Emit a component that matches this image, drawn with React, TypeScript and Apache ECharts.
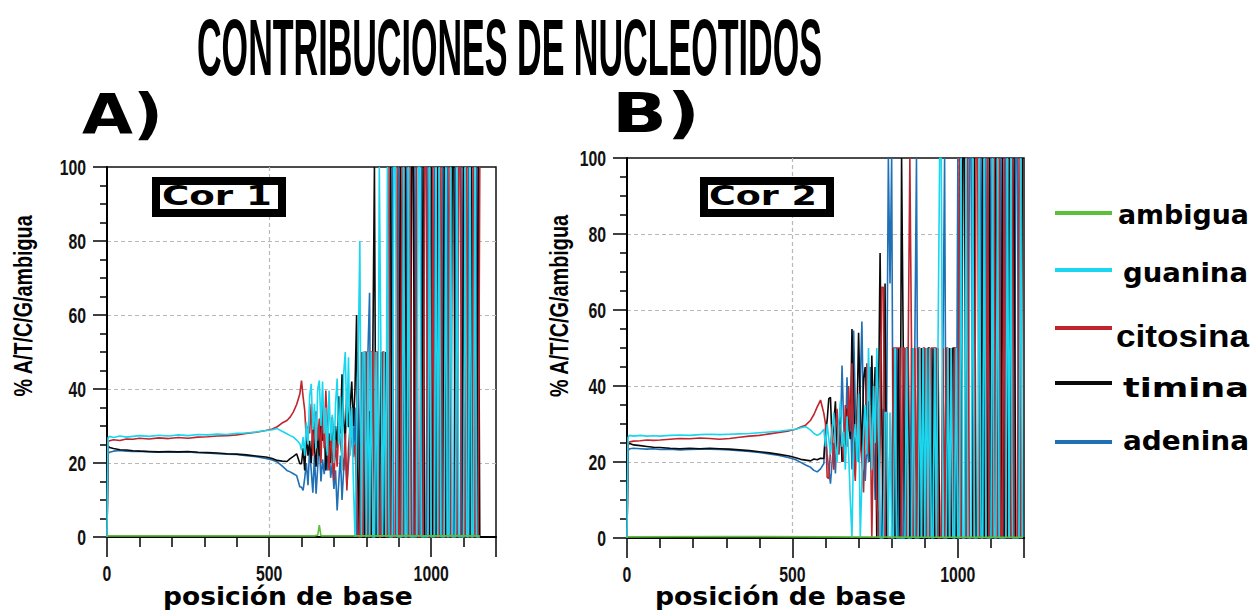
import React, { useEffect, useRef } from "react";
import * as echarts from "echarts";

// ---------- DATA ----------
const seriesNames = ["ambigua", "guanina", "citosina", "timina", "adenina"];
const xTickValues = [0, 500, 1000];
const yTickValues = [0, 20, 40, 60, 80, 100];

// Panel A (Cor 1) positions
const posA = [
  0, 3, 8, 20, 40, 60, 80, 100, 130, 160, 190, 220, 250, 280, 310, 340, 370, 400, 430, 460, 490,
  510, 525, 540, 555, 565, 575, 585, 595,
  600, 605, 610, 615, 620, 625, 630, 635, 640, 645, 650, 655, 660, 665, 670, 675, 680, 685, 690, 695,
  700, 705, 710, 715, 720, 725, 730, 735, 740, 745, 750, 755, 760,
  765, 770, 775, 780, 785, 790, 795, 800, 805, 810, 815, 820, 825, 830, 835, 840, 845, 850, 855, 860,
  865, 870, 875, 880, 885, 890, 895, 900, 905, 910, 915, 920, 925, 930, 935, 940, 945, 950, 955, 960,
  965, 970, 975, 980, 985, 990, 995, 1000, 1005, 1010, 1015, 1020, 1025, 1030, 1035, 1040, 1045, 1050,
  1055, 1060, 1065, 1070, 1075, 1080, 1085, 1090, 1095, 1100, 1105, 1110, 1115, 1120, 1125, 1130, 1135,
  1140, 1145, 1150,
];
const guaninaA = [
  0, 26.8, 27.2, 26.9, 27.3, 27.0, 27.2, 27.4, 27.2, 27.5, 27.3, 27.6, 27.4, 27.7, 27.6, 27.8, 27.7, 28.0, 28.1, 28.4, 28.8,
  29.0, 29.3, 28.6, 27.9, 27.4, 27.0, 26.2, 25.2,
  23.4, 27, 22, 31, 25, 38, 41.4, 29, 36, 24, 40, 42.3, 30, 42, 28, 35, 22, 39.6, 26, 33,
  20, 36, 42.8, 25, 38, 18, 44, 50, 30, 48.6, 22, 35, 15,
  0, 25, 50, 80, 0, 50, 50, 0, 50, 0, 50, 0, 0, 50, 0, 100, 50, 0, 50, 0,
  100, 0, 0, 0, 100, 100, 0, 0, 0, 0,
  100, 0, 0, 100, 0, 0, 0, 0, 0, 100,
  100, 0, 0, 0, 0, 0, 100, 0, 0, 0,
  100, 0, 100, 0, 0, 0, 100, 0, 0, 100,
  0, 0, 0, 100, 0, 0, 0, 0, 100, 0,
  0, 100, 0, 0, 100, 0, 0, 0,
];
const citosinaA = [
  0, 25.8, 26.0, 26.3, 26.1, 26.5, 26.4, 26.7, 26.5, 26.8, 26.6, 26.9, 26.7, 27.0, 27.1, 27.3, 27.4, 27.6, 28.0, 28.3, 28.8,
  29.2, 29.8, 30.8, 31.5, 32.4, 33.8, 35.8, 38.7,
  42.3, 37.8, 34.2, 26, 30, 28, 36, 22, 30, 34, 26, 32, 20, 36, 24, 39.6, 30, 18, 28, 22,
  15.3, 26, 19, 30, 25.2, 22, 18, 28, 12.6, 24, 30, 26, 21.6,
  25, 15, 0, 0, 50, 0, 50, 50, 0, 0, 50, 50, 0, 50, 50, 0, 0, 50, 50, 0,
  0, 100, 0, 0, 0, 0, 100, 0, 0, 100,
  0, 0, 0, 0, 100, 0, 0, 0, 100, 0,
  0, 0, 0, 100, 100, 0, 0, 0, 100, 0,
  0, 0, 0, 100, 0, 0, 0, 0, 100, 0,
  0, 0, 0, 0, 100, 100, 0, 0, 0, 100,
  0, 0, 0, 100, 0, 0, 0, 100,
];
const timinaA = [
  0, 24.6, 24.2, 23.9, 23.6, 23.5, 23.3, 23.2, 23.1, 23.0, 23.1, 23.0, 23.1, 22.9, 22.8, 22.7, 22.5, 22.4, 22.2, 21.9, 21.6,
  21.2, 20.7, 20.5, 20.4, 21.2, 21.8, 22.5, 19.8,
  19.8, 24, 18, 28, 22, 26, 20, 30, 24, 19, 28, 22, 34, 26, 30, 18, 24, 28, 20, 32.4,
  22, 30, 24, 38, 28, 44, 32, 26, 40, 29.7, 35, 42, 30,
  40, 60, 0, 20, 50, 0, 0, 50, 0, 34, 0, 50, 100, 0, 0, 0, 50, 0, 0, 50,
  0, 0, 100, 0, 0, 0, 0, 0, 100, 0,
  0, 100, 0, 0, 0, 100, 100, 0, 0, 0,
  0, 0, 100, 0, 0, 0, 0, 100, 0, 0,
  0, 100, 0, 0, 0, 100, 0, 0, 0, 0,
  100, 100, 0, 0, 0, 0, 0, 100, 0, 0,
  0, 0, 100, 0, 0, 0, 100, 0,
];
const adeninaA = [
  0, 22.6, 22.9, 23.2, 23.4, 23.2, 23.1, 23.2, 23.0, 22.9, 23.0, 22.9, 23.0, 22.8, 22.7, 22.5, 22.4, 22.3, 22.0, 21.7, 21.2,
  20.8, 20.3, 19.2, 18.0, 17.6, 17.1, 16.6, 13.5,
  13.5, 12.6, 16, 20, 14, 24, 18, 12, 22, 11.7, 19, 26, 15, 21, 17, 23, 18, 25, 16, 20,
  13, 18, 7.2, 15, 22, 10, 18, 23.4, 14, 20, 26, 35, 23.4,
  35, 0, 50, 0, 0, 50, 0, 0, 50, 66, 0, 0, 0, 0, 50, 0, 0, 50, 0, 50,
  0, 0, 0, 100, 0, 0, 0, 100, 0, 0,
  0, 0, 100, 0, 0, 0, 0, 100, 0, 0,
  0, 100, 0, 0, 0, 100, 0, 0, 0, 100,
  0, 0, 0, 0, 100, 0, 0, 100, 0, 0,
  0, 0, 100, 0, 0, 0, 100, 0, 0, 0,
  100, 0, 0, 0, 0, 100, 0, 0,
];
const ambiguaPosA = [0, 640, 650, 655, 660, 1150];
const ambiguaA = [0.3, 0.3, 0.5, 3.2, 0.3, 0.3];

// Panel B (Cor 2) positions
const posB = [
  0, 3, 8, 20, 40, 60, 80, 100, 130, 160, 190, 220, 250, 280, 310, 340, 370, 400, 430, 460, 490,
  510, 525, 540, 555, 565, 575, 585, 595,
  600, 605, 610, 615, 620, 625, 630, 635, 640, 645, 650, 655, 660, 665, 670, 675, 680, 685, 690, 695,
  700, 705, 710, 715, 720, 725, 730, 735, 740, 745, 750, 755, 760, 765, 770, 775, 780, 785, 790, 795, 800,
  805, 810, 815, 820, 825, 830, 835, 840, 845, 850, 855, 860, 865, 870, 875, 880, 885, 890, 895, 900,
  905, 910, 915, 920, 925, 930, 935, 940, 945, 950, 955, 960, 965, 970, 975, 980, 985, 990, 995,
  1000, 1005, 1010, 1015, 1020, 1025, 1030, 1035, 1040, 1045, 1050, 1055, 1060, 1065, 1070, 1075, 1080,
  1085, 1090, 1095, 1100, 1105, 1110, 1115, 1120, 1125, 1130, 1135, 1140, 1145, 1150, 1155, 1160, 1165,
  1170, 1175, 1180, 1185, 1190, 1195,
];
const guaninaB = [
  0, 26.5, 27.0, 26.8, 27.0, 26.8, 26.9, 26.8, 27.0, 27.1, 27.0, 27.2, 27.3, 27.2, 27.3, 27.4, 27.5, 27.7, 27.9, 28.1, 28.4,
  28.6, 29.0, 29.3, 28.4, 27.5, 27.0, 27.5, 28.6,
  24, 30, 26, 22, 28, 33, 25, 20, 30, 36, 24, 28, 18, 32, 22, 10, 0, 25, 30, 20,
  38, 0, 15, 28, 35, 22, 50, 30, 18, 40, 25, 50, 33, 0, 0, 0, 33, 33, 0, 33, 0,
  0, 50, 0, 0, 0, 0, 0, 0, 50, 0, 0, 0, 50, 0, 0, 0, 50, 0, 50, 0,
  50, 0, 50, 0, 0, 50, 0, 50, 100, 100, 0, 0, 0, 50, 0, 50, 0, 0, 50,
  0, 0, 100, 0, 0, 100, 0, 0, 0, 100,
  0, 0, 0, 100, 0, 0, 100, 0, 0, 0,
  0, 100, 0, 0, 100, 0, 0, 0, 0, 0,
  100, 0, 100, 0, 0, 0, 0, 0, 100, 0,
];
const citosinaB = [
  0, 25.0, 25.3, 25.5, 25.6, 25.8, 25.7, 25.8, 26.0, 26.2, 26.1, 26.3, 26.2, 26.0, 26.2, 26.5, 26.8, 27.0, 27.4, 27.8, 28.2,
  28.6, 29.2, 29.7, 31.0, 32.5, 34.5, 36.3, 32.8,
  30, 16, 15.6, 23, 30, 18, 28, 34, 22, 30, 26, 20, 35, 24, 40, 28, 46, 22, 15, 30,
  38, 25, 20, 12, 30, 46, 22, 35, 0, 28, 40, 10, 0, 25, 66, 66, 0, 33, 0, 0, 0,
  50, 50, 50, 50, 50, 0, 50, 50, 0, 50, 100, 50, 0, 50, 0, 50, 50, 0, 50, 50,
  0, 50, 0, 50, 50, 50, 50, 0, 0, 0, 50, 0, 50, 50, 0, 50, 0, 50, 50,
  0, 100, 0, 0, 0, 0, 100, 0, 0, 0,
  0, 100, 100, 0, 0, 0, 0, 0, 100, 0,
  0, 0, 100, 0, 0, 100, 0, 0, 100, 0,
  0, 0, 0, 100, 0, 0, 0, 100, 0, 0,
];
const timinaB = [
  0, 24.8, 24.9, 24.5, 24.3, 24.1, 23.9, 23.8, 23.6, 23.5, 23.6, 23.5, 23.6, 23.5, 23.4, 23.2, 23.0, 22.7, 22.4, 22.0, 21.6,
  21.1, 20.7, 20.5, 20.3, 20.8, 20.6, 21.0, 20.9,
  27.5, 31, 36.7, 37, 25, 30, 36, 22, 29, 33, 20, 28, 24, 34, 30, 26, 55, 38, 20, 30,
  54, 35, 22, 42, 45, 28, 36, 20, 48, 30, 45, 0, 33, 75, 34, 0, 67, 0, 0, 0, 0,
  50, 0, 0, 50, 0, 100, 50, 0, 50, 50, 0, 0, 50, 0, 0, 50, 0, 50, 0, 50,
  0, 50, 50, 0, 50, 0, 0, 50, 0, 0, 0, 0, 50, 0, 50, 0, 50, 50, 0,
  0, 0, 0, 100, 100, 0, 0, 0, 0, 0,
  100, 0, 0, 0, 0, 100, 0, 0, 0, 100,
  0, 0, 0, 100, 0, 0, 0, 100, 0, 0,
  0, 100, 0, 0, 100, 0, 0, 0, 0, 100,
];
const adeninaB = [
  0, 23.0, 23.5, 23.6, 23.5, 23.4, 23.5, 23.3, 23.4, 23.2, 23.3, 23.4, 23.4, 23.3, 23.2, 23.0, 22.8, 22.5, 22.1, 21.7, 21.1,
  20.6, 19.9, 19.2, 18.6, 17.8, 17.4, 18.2, 19.6,
  29, 22, 18, 14.3, 20, 25, 17, 30, 22, 26, 45.4, 30, 22, 42.3, 28, 36, 18, 54.6, 35, 25,
  20, 40, 57, 30, 15, 25, 20, 45, 34, 30, 10, 40, 34, 0, 0, 34, 0, 34, 100, 67, 100,
  0, 0, 50, 0, 50, 0, 0, 50, 0, 0, 0, 50, 0, 50, 100, 0, 0, 50, 0, 0,
  50, 0, 0, 50, 0, 0, 50, 0, 0, 0, 50, 100, 0, 0, 50, 0, 50, 0, 0,
  100, 0, 0, 0, 0, 0, 0, 100, 100, 0,
  0, 0, 0, 0, 100, 0, 0, 100, 0, 0,
  100, 0, 0, 0, 0, 0, 100, 0, 0, 100,
  0, 0, 0, 0, 0, 100, 100, 0, 0, 0,
];
const ambiguaPosB = [0, 300, 600, 900, 1195];
const ambiguaB = [0.3, 0.4, 0.3, 0.2, 0.2];

// ---------- STYLE ----------
const COLORS: Record<string, string> = {
  ambigua: "#5cbf3a",
  guanina: "#1ad6ee",
  citosina: "#c0242c",
  timina: "#0a0a0a",
  adenina: "#1f70b5",
};
const NARROW = "'Liberation Sans Narrow', 'Liberation Sans', Arial, sans-serif";
const WIDE = "'DejaVu Sans', Verdana, sans-serif";
const ARIAL = "'Liberation Sans', Arial, sans-serif";

let measureCtx: CanvasRenderingContext2D | null = null;
function measureWidth(text: string, size: number, family: string) {
  if (!measureCtx) measureCtx = document.createElement("canvas").getContext("2d");
  if (!measureCtx) return 0;
  measureCtx.font = `bold ${size}px ${family}`;
  return measureCtx.measureText(text).width;
}

// Text fitted to a target width; compressing uses a smaller font stretched vertically,
// stretching uses horizontal scale.
function fitText(text: string, x: number, y: number, size: number, family: string, width: number, align = "left", extra: any = {}) {
  const w = measureWidth(text, size, family);
  let fontSize = size;
  let scaleX = 1;
  let scaleY = 1;
  if (w > 0 && w > width) {
    fontSize = (size * width) / w;
    scaleY = size / fontSize;
  } else if (w > 0) {
    scaleX = width / w;
  }
  return {
    type: "text",
    x,
    y,
    scaleX,
    scaleY,
    z: 100,
    ...extra,
    style: {
      text,
      fontSize,
      fontFamily: family,
      fontWeight: "bold",
      fill: "#000",
      align,
      verticalAlign: "middle",
    },
  };
}

function tickText(text: string, x: number, y: number, align: string) {
  return {
    type: "text",
    x,
    y,
    scaleY: 1.45,
    z: 100,
    style: {
      text,
      fontSize: 15.8,
      fontFamily: ARIAL,
      fontWeight: "bold",
      fill: "#111",
      align,
      verticalAlign: "middle",
    },
  };
}

function makeX(gridIndex: number) {
  return {
    type: "value",
    gridIndex,
    min: 0,
    max: 1200,
    interval: 500,
    axisLine: { show: true, onZero: false, lineStyle: { color: "#000", width: 2 } },
    axisTick: { show: true, length: 20, lineStyle: { color: "#000", width: 1.5 } },
    minorTick: { show: true, splitNumber: 5, length: 10, lineStyle: { color: "#000", width: 1.5 } },
    axisLabel: { show: false },
    splitLine: {
      show: true,
      showMinLine: false,
      showMaxLine: false,
      lineStyle: { color: "#b8b8b8", type: [4, 3], width: 1.2 },
    },
  };
}
function makeY(gridIndex: number) {
  return {
    type: "value",
    gridIndex,
    min: 0,
    max: 100,
    interval: 20,
    axisLine: { show: true, onZero: false, lineStyle: { color: "#000", width: 2 } },
    axisTick: { show: true, length: 14, lineStyle: { color: "#000", width: 1.5 } },
    minorTick: { show: true, splitNumber: 4, length: 7, lineStyle: { color: "#000", width: 1.5 } },
    axisLabel: { show: false },
    splitLine: {
      show: true,
      showMinLine: false,
      showMaxLine: false,
      lineStyle: { color: "#b8b8b8", type: [4, 3], width: 1.2 },
    },
  };
}

function zip(xs: number[], ys: number[]) {
  return xs.map((x, i) => [x, ys[i]]);
}

function lineSeries(name: string, idx: number, data: number[][], z: number) {
  return {
    type: "line",
    name,
    xAxisIndex: idx,
    yAxisIndex: idx,
    data,
    showSymbol: false,
    symbol: "none",
    clip: true,
    z,
    lineStyle: { color: COLORS[name], width: 1.6 },
    itemStyle: { color: COLORS[name] },
    emphasis: { disabled: true },
  };
}

export default function App() {
  const ref = useRef<HTMLDivElement>(null);
  useEffect(() => {
    document.body.style.margin = "0";
    const chart = echarts.init(ref.current!, null, { renderer: "svg" });

    const panels = [
      { pos: posA, g: guaninaA, c: citosinaA, t: timinaA, a: adeninaA, ap: ambiguaPosA, am: ambiguaA },
      { pos: posB, g: guaninaB, c: citosinaB, t: timinaB, a: adeninaB, ap: ambiguaPosB, am: ambiguaB },
    ];
    const series: any[] = [];
    panels.forEach((p, i) => {
      series.push(lineSeries("adenina", i, zip(p.pos, p.a), 2));
      series.push(lineSeries("timina", i, zip(p.pos, p.t), 3));
      series.push(lineSeries("citosina", i, zip(p.pos, p.c), 4));
      series.push(lineSeries("guanina", i, zip(p.pos, p.g), 5));
      series.push(lineSeries("ambigua", i, zip(p.ap, p.am), 6));
    });

    chart.setOption({
      animation: false,
      backgroundColor: "#fff",
      grid: [
        { left: 107, top: 167, width: 389, height: 370, show: true, borderColor: "#111", borderWidth: 1.5, backgroundColor: "transparent" },
        { left: 627, top: 158, width: 397, height: 380, show: true, borderColor: "#111", borderWidth: 1.5, backgroundColor: "transparent" },
      ],
      xAxis: [makeX(0), makeX(1)],
      yAxis: [makeY(0), makeY(1)],
      series,
    });

    const legendRows = [
      { name: seriesNames[0], lineY: 213, textX: 1118, textY: 214, w: 131, size: 27, fam: WIDE },
      { name: seriesNames[1], lineY: 270, textX: 1123, textY: 273, w: 125, size: 27, fam: WIDE },
      { name: seriesNames[2], lineY: 328, textX: 1116, textY: 336, w: 133, size: 32, fam: ARIAL },
      { name: seriesNames[3], lineY: 383, textX: 1123, textY: 388, w: 126, size: 27, fam: WIDE },
      { name: seriesNames[4], lineY: 442, textX: 1123, textY: 441, w: 126, size: 27, fam: WIDE },
    ];

    const graphic: any[] = [
      fitText("CONTRIBUCIONES DE NUCLEOTIDOS", 197, 47, 80, NARROW, 625),
      fitText("A)", 82, 114, 55, WIDE, 81),
      fitText("B)", 612, 113, 55, WIDE, 88),
      {
        type: "rect",
        z: 100,
        shape: { x: 156, y: 181, width: 126, height: 32 },
        style: { fill: "#fff", stroke: "#000", lineWidth: 8 },
      },
      fitText("Cor 1", 162, 196, 26, WIDE, 110),
      {
        type: "rect",
        z: 100,
        shape: { x: 704, y: 181, width: 126, height: 32 },
        style: { fill: "#fff", stroke: "#000", lineWidth: 8 },
      },
      fitText("Cor 2", 709, 196, 26, WIDE, 108),
      fitText("% A/T/C/G/ambigua", 24, 306, 25, ARIAL, 182, "center", { rotation: Math.PI / 2 }),
      fitText("% A/T/C/G/ambigua", 560, 306, 25, ARIAL, 183, "center", { rotation: Math.PI / 2 }),
      fitText("posición de base", 163, 596, 25, WIDE, 250),
      fitText("posición de base", 655, 596, 25, WIDE, 251),
    ];

    // tick labels positioned through the axes' own scales
    [0, 1].forEach((gi) => {
      const origin = chart.convertToPixel({ gridIndex: gi } as any, [0, 0]) as number[];
      yTickValues.forEach((v) => {
        const p = chart.convertToPixel({ gridIndex: gi } as any, [0, v]) as number[];
        graphic.push(tickText(String(v), origin[0] - 21, p[1], "right"));
      });
      xTickValues.forEach((v) => {
        const p = chart.convertToPixel({ gridIndex: gi } as any, [v, 0]) as number[];
        graphic.push(tickText(String(v), p[0], origin[1] + 36, "center"));
      });
    });

    legendRows.forEach((r) => {
      graphic.push({
        type: "line",
        z: 100,
        shape: { x1: 1055, y1: r.lineY, x2: 1112, y2: r.lineY },
        style: { stroke: COLORS[r.name], lineWidth: 4 },
      });
      graphic.push(fitText(r.name, r.textX, r.textY, r.size, r.fam, r.w));
    });

    chart.setOption({ graphic });
    return () => chart.dispose();
  }, []);
  return (
    <div
      ref={ref}
      style={{ position: "absolute", left: 0, top: 0, width: 1253, height: 613, background: "#fff" }}
    />
  );
}
